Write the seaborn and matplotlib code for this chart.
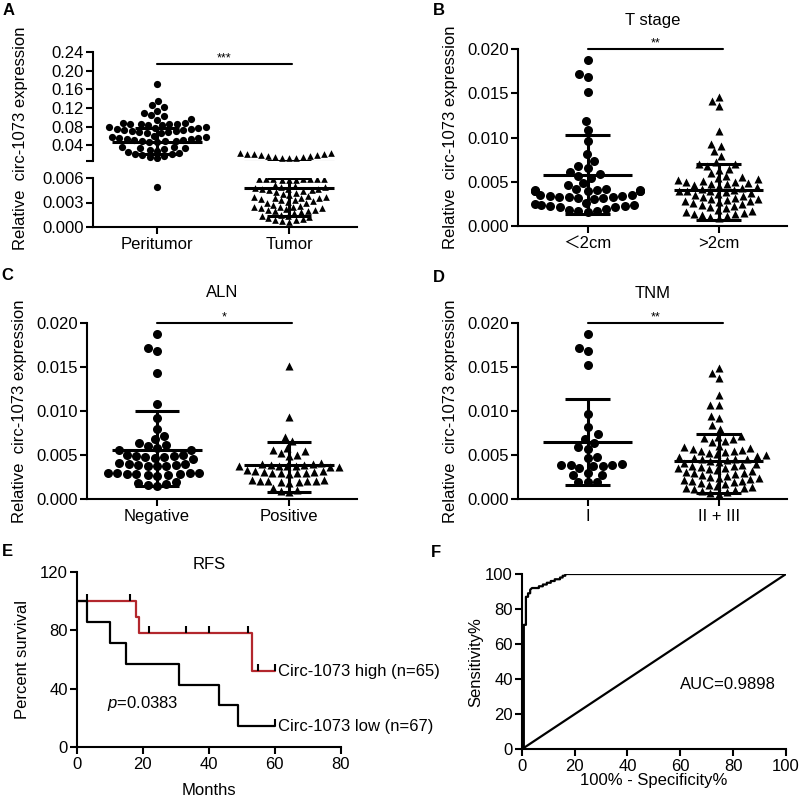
"""circ-1073 figure: expression scatter panels (A-D), RFS curve (E) and ROC curve (F)."""

import matplotlib

matplotlib.use("Agg")
import matplotlib.pyplot as plt
import numpy as np
import pandas as pd
import seaborn as sns

# ---------------- data ----------------
# A: peritumor vs tumor (broken y axis at 0.006)
a_cats = ["Peritumor", "Tumor"]
a_peri = [0.172, 0.135, 0.126, 0.122, 0.114, 0.108, 0.104, 0.103, 0.096, 0.095,
          0.083, 0.084, 0.085, 0.085, 0.086, 0.086, 0.087, 0.088,
          0.066, 0.067, 0.068, 0.069, 0.070, 0.071, 0.072, 0.073, 0.074, 0.075, 0.076, 0.077, 0.078, 0.079,
          0.046, 0.047, 0.048, 0.049, 0.050, 0.051, 0.052, 0.053, 0.054, 0.055, 0.056, 0.057, 0.058, 0.060,
          0.012, 0.014, 0.016, 0.018, 0.020, 0.022, 0.024, 0.026, 0.028, 0.030, 0.032, 0.033, 0.034, 0.035, 0.036,
          0.0049]
a_tumor = [0.0115, 0.012, 0.013, 0.014, 0.015, 0.016, 0.017, 0.018, 0.019, 0.020, 0.021, 0.022, 0.023, 0.024,
           0.0057, 0.0058, 0.0058, 0.0059, 0.0059, 0.0059, 0.0059, 0.0059, 0.0059, 0.0059,
           0.0041, 0.0042, 0.0043, 0.0044, 0.0045, 0.0045, 0.0046, 0.0047, 0.0047, 0.0048, 0.0049, 0.0049, 0.0050, 0.0051,
           0.0029, 0.0030, 0.0031, 0.0032, 0.0033, 0.0033, 0.0034, 0.0035, 0.0035, 0.0036, 0.0037, 0.0037, 0.0038, 0.0039,
           0.0017, 0.0018, 0.0019, 0.0020, 0.0021, 0.0021, 0.0022, 0.0023, 0.0023, 0.0024, 0.0025, 0.0025, 0.0026, 0.0027,
           0.0006, 0.0007, 0.0008, 0.0009, 0.0010, 0.0011, 0.0012, 0.0013, 0.0014, 0.0015]
a_mean = [0.047, 0.0048]
a_low = [0.022, 0.0013]
a_high = [0.076, 0.00595]
a_break = 0.006

# B: T stage
b_cats = ["＜2cm", ">2cm"]
b_small = [0.01875, 0.01718, 0.01687, 0.01514, 0.01186, 0.01085, 0.00964, 0.00810, 0.00734, 0.00678,
           0.00655, 0.00614, 0.00584, 0.00565, 0.00546, 0.00482, 0.00463,
           0.0039, 0.0039, 0.0040, 0.0040, 0.0040, 0.0041, 0.0041, 0.0041, 0.0042, 0.0042,
           0.0031, 0.0032, 0.0032, 0.0033, 0.0033, 0.0033, 0.0034, 0.0034, 0.0035, 0.0035,
           0.0021, 0.0022, 0.0023, 0.0023, 0.0024, 0.0024, 0.0025, 0.0026,
           0.0016, 0.0017, 0.0017, 0.0018, 0.0019]
b_large = [0.01461, 0.01416, 0.01360, 0.01073, 0.00930, 0.00904, 0.00847, 0.00794, 0.00720, 0.00704,
           0.00704, 0.00678, 0.00644, 0.00633, 0.00595,
           0.0046, 0.0047, 0.0048, 0.0049, 0.0050, 0.0050, 0.0051, 0.0052, 0.0053, 0.0054, 0.0055, 0.0056,
           0.0035, 0.0036, 0.0037, 0.0038, 0.0039, 0.0039, 0.0040, 0.0041, 0.0042, 0.0043, 0.0044, 0.0045,
           0.0024, 0.0025, 0.0026, 0.0027, 0.0028, 0.0028, 0.0029, 0.0030, 0.0031, 0.0032, 0.0033, 0.0034,
           0.0009, 0.0010, 0.0011, 0.0012, 0.0013, 0.0014, 0.0015, 0.0016, 0.0017, 0.0018, 0.0020, 0.0021, 0.0023]
b_mean = [0.00576, 0.0041]
b_low = [0.00136, 0.0007]
b_high = [0.01028, 0.0070]

# C: ALN
c_cats = ["Negative", "Positive"]
c_neg = [0.01878, 0.01716, 0.01677, 0.01430, 0.01078, 0.00920, 0.00800, 0.00720, 0.00680, 0.00640,
         0.00610, 0.00600, 0.00580, 0.00560, 0.00560,
         0.0046, 0.0047, 0.0048, 0.0048, 0.0049, 0.0049, 0.0050, 0.0050,
         0.0037, 0.0038, 0.0038, 0.0039, 0.0039, 0.0040, 0.0040, 0.0041,
         0.0026, 0.0027, 0.0027, 0.0028, 0.0028, 0.0028, 0.0029, 0.0029, 0.0030, 0.0030,
         0.0015, 0.0016, 0.0017, 0.0018, 0.0019]
c_pos = [0.01508, 0.00928, 0.00705, 0.00655, 0.00580, 0.00560, 0.00540, 0.00520, 0.00500, 0.00490,
         0.0036, 0.0036, 0.0037, 0.0037, 0.0038, 0.0038, 0.0039, 0.0039, 0.0040, 0.0040, 0.0041,
         0.0028, 0.0029, 0.0029, 0.0030, 0.0030, 0.0031, 0.0031, 0.0032, 0.0032, 0.0033,
         0.0018, 0.0019, 0.0019, 0.0020, 0.0020, 0.0021, 0.0021, 0.0022, 0.0022,
         0.0008, 0.0009, 0.0010, 0.0012]
c_mean = [0.0056, 0.00382]
c_low = [0.00143, 0.0008]
c_high = [0.00995, 0.00648]

# D: TNM
d_cats = ["I", "II + III"]
d_early = [0.01878, 0.01716, 0.01678, 0.01520, 0.00966, 0.00815, 0.00736, 0.00680, 0.00640, 0.00586,
           0.00567, 0.00482, 0.00464, 0.0038, 0.0038, 0.0039, 0.0039, 0.0039, 0.0040,
           0.0035, 0.0030, 0.00275, 0.00275, 0.0019, 0.0019, 0.0019]
d_late = [0.01484, 0.01427, 0.01370, 0.01180, 0.01066, 0.01066, 0.00940, 0.00920, 0.00840, 0.00800,
          0.00720, 0.00710, 0.00690, 0.00680, 0.00660, 0.00650,
          0.0049, 0.0050, 0.0051, 0.0052, 0.0053, 0.0054, 0.0055, 0.0056, 0.0057, 0.0058, 0.0059, 0.0060,
          0.0038, 0.0039, 0.0040, 0.0041, 0.0042, 0.0043, 0.0044, 0.0045, 0.0046, 0.0046, 0.0047, 0.0048,
          0.0027, 0.0028, 0.0029, 0.0030, 0.0031, 0.0032, 0.0033, 0.0034, 0.0035, 0.0035, 0.0036, 0.0037,
          0.0016, 0.0017, 0.0018, 0.0019, 0.0020, 0.0021, 0.0022, 0.0023, 0.0024, 0.0024, 0.0025, 0.0026,
          0.0006, 0.0007, 0.0008, 0.0009, 0.0010, 0.0011, 0.0012, 0.0013, 0.0014, 0.0015]
d_mean = [0.00645, 0.00437]
d_low = [0.00154, 0.0007]
d_high = [0.0114, 0.00736]

# E: RFS (Kaplan-Meier steps)
high_t = [0, 18, 19, 53, 60]
high_s = [100, 88.9, 77.8, 51.9, 51.9]
high_cens_t = [16, 22, 33, 40, 52, 55, 60]
high_cens_s = [100, 77.8, 77.8, 77.8, 77.8, 51.9, 51.9]
low_t = [0, 3, 10, 15, 31, 43, 49, 60]
low_s = [100, 85.7, 71.4, 57.1, 42.9, 28.6, 14.3, 14.3]
low_cens_t = [3, 60]
low_cens_s = [100, 14.3]

# F: ROC
roc_fpr = [0, 0.8, 0.8, 1.6, 1.6, 2.4, 2.4, 3.2, 3.2, 3.9, 6.5, 6.5, 8.0, 8.0, 9.5, 9.5,
           11.0, 11.0, 12.5, 12.5, 14.5, 14.5, 15.5, 15.5, 16.5, 16.5, 100]
roc_tpr = [0, 0, 71, 71, 87, 87, 89, 89, 91, 92, 92, 93, 93, 94, 94, 95,
           95, 96, 96, 97, 97, 98, 98, 99, 99, 100, 100]
chance = [0, 100]

RED = "#b3272d"
YLABEL = "Relative  circ-1073 expression"

# ---------------- style ----------------
sns.set_theme(style="ticks")
plt.rcParams["font.family"] = ["Liberation Sans", "Noto Sans CJK SC", "DejaVu Sans"]
plt.rcParams.update({
    "axes.linewidth": 1.5, "axes.edgecolor": "black", "axes.labelcolor": "black",
    "text.color": "black", "xtick.color": "black", "ytick.color": "black",
    "xtick.major.width": 1.5, "ytick.major.width": 1.5,
    "xtick.major.size": 5, "ytick.major.size": 5,
    "xtick.major.pad": 2, "ytick.major.pad": 1.5,
    "font.size": 12, "xtick.labelsize": 12, "ytick.labelsize": 12, "axes.labelsize": 12,
    "mathtext.fontset": "custom", "mathtext.it": "Liberation Sans:italic",
    "mathtext.rm": "Liberation Sans",
})

W, H = 800, 798
fig = plt.figure(figsize=(W / 100, H / 100), dpi=100)


def add_axes(left, top, right, bottom):
    ax = fig.add_axes([left / W, 1 - bottom / H, (right - left) / W, (bottom - top) / H])
    sns.despine(ax=ax)
    return ax


def swarm(ax, cats, groups, markers, sizes):
    for cat, vals, marker, size in zip(cats, groups, markers, sizes):
        df = pd.DataFrame({"group": [cat] * len(vals), "value": vals})
        sns.swarmplot(data=df, x="group", y="value", order=cats, marker=marker, size=size,
                      color="black", linewidth=0, warn_thresh=1, ax=ax)
    ax.set_xlabel("")
    ax.set_ylabel("")


def mean_sd(ax, means, lows, highs):
    xs = np.arange(len(means))
    kw = dict(color="black", lw=2.2, zorder=5)
    ax.hlines(means, xs - 0.34, xs + 0.34, **kw)
    ax.hlines(highs, xs - 0.17, xs + 0.17, **kw)
    ax.hlines(lows, xs - 0.17, xs + 0.17, **kw)
    ax.vlines(xs, lows, highs, **kw)


def sig_bar(ax, y, stars, x1=1.03):
    ax.plot([0, x1], [y, y], color="black", lw=1.5, clip_on=False)
    ax.text(x1 / 2, y, stars, ha="center", va="bottom", fontsize=9, clip_on=False)


def conc_axis(ax, xlim, title=None, pad=17, label_x=-0.223):
    ax.set_xlim(*xlim)
    ax.set_ylim(0, 0.020)
    ticks = [0, 0.005, 0.010, 0.015, 0.020]
    ax.set_yticks(ticks)
    ax.set_yticklabels([f"{t:.3f}" for t in ticks])
    ax.set_ylabel(YLABEL)
    ax.yaxis.set_label_coords(label_x, 0.5)
    if title:
        ax.set_title(title, fontsize=12, pad=pad)


# ---------------- A (broken axis) ----------------
ax_a1 = add_axes(93, 52, 357, 161)
ax_a2 = add_axes(93, 178, 357, 227)
peri = np.array(a_peri)
tum = np.array(a_tumor)
swarm(ax_a1, a_cats, [peri[peri >= a_break], tum[tum >= a_break]], ["o", "^"], [5.2, 4.8])
swarm(ax_a2, a_cats, [peri[peri < a_break], tum[tum < a_break]], ["o", "^"], [5.2, 4.8])
for ax in (ax_a1, ax_a2):
    mean_sd(ax, a_mean, a_low, a_high)
    ax.set_xlim(-0.485, 1.515)
ax_a1.set_ylim(a_break, 0.24)
up_ticks = [a_break, 0.04, 0.08, 0.12, 0.16, 0.20, 0.24]
ax_a1.set_yticks(up_ticks)
ax_a1.set_yticklabels([""] + [f"{t:.2f}" for t in up_ticks[1:]])
ax_a1.spines["bottom"].set_visible(False)
ax_a1.tick_params(axis="x", bottom=False, labelbottom=False)
ax_a2.set_ylim(0, a_break)
ax_a2.set_yticks([0, 0.003, 0.006])
ax_a2.set_yticklabels(["0.000", "0.003", "0.006"])
sig_bar(ax_a1, 0.214, "***", x1=1.02)
fig.text(21 / W, 1 - 138 / H, YLABEL, rotation=90, ha="center", va="center", fontsize=12)

# ---------------- B ----------------
ax_b = add_axes(518, 49, 787, 226)
swarm(ax_b, b_cats, [b_small, b_large], ["o", "^"], [6.5, 5.8])
mean_sd(ax_b, b_mean, b_low, b_high)
conc_axis(ax_b, (-0.53, 1.52), "T stage", pad=17)
sig_bar(ax_b, 0.020, "**")

# ---------------- C ----------------
ax_c = add_axes(87, 323, 357, 499)
swarm(ax_c, c_cats, [c_neg, c_pos], ["o", "^"], [6.5, 5.8])
mean_sd(ax_c, c_mean, c_low, c_high)
conc_axis(ax_c, (-0.53, 1.515), "ALN", pad=19, label_x=-0.222)
sig_bar(ax_c, 0.020, "*", x1=1.02)

# ---------------- D ----------------
ax_d = add_axes(518, 323, 787, 499)
swarm(ax_d, d_cats, [d_early, d_late], ["o", "^"], [6.5, 5.8])
mean_sd(ax_d, d_mean, d_low, d_high)
conc_axis(ax_d, (-0.53, 1.52), "TNM", pad=18)
sig_bar(ax_d, 0.020, "**")

# ---------------- E ----------------
ax_e = add_axes(76.7, 571.7, 340.7, 747.3)
sns.lineplot(x=high_t, y=high_s, drawstyle="steps-post", color=RED, lw=1.6, estimator=None, ax=ax_e)
ax_e.plot(high_cens_t, high_cens_s, ls="none", marker=2, ms=5, mew=1.5, color="black")
sns.lineplot(x=low_t, y=low_s, drawstyle="steps-post", color="black", lw=1.6, estimator=None, ax=ax_e)
ax_e.plot(low_cens_t, low_cens_s, ls="none", marker=2, ms=5, mew=1.5, color="black")
ax_e.set_xlim(0, 80)
ax_e.set_ylim(0, 120)
ax_e.set_xticks([0, 20, 40, 60, 80])
ax_e.set_yticks([0, 40, 80, 120])
ax_e.set_title("RFS", fontsize=12, pad=2)
ax_e.set_xlabel("Months")
ax_e.set_ylabel("Percent survival")
ax_e.yaxis.set_label_coords(-0.177, 0.5)
ax_e.xaxis.set_label_coords(0.5, -0.203)
ax_e.text(61, high_s[-1], "Circ-1073 high (n=65)", va="center", ha="left", fontsize=12, clip_on=False)
ax_e.text(61, low_s[-1], "Circ-1073 low (n=67)", va="center", ha="left", fontsize=12, clip_on=False)
ax_e.text(9.2, 30, r"$\it{p}$=0.0383", va="center", ha="left", fontsize=12)

# ---------------- F ----------------
ax_f = add_axes(521.7, 574, 786, 749.3)
sns.lineplot(x=chance, y=chance, color="black", lw=1.6, estimator=None, ax=ax_f)
sns.lineplot(x=roc_fpr, y=roc_tpr, sort=False, color="black", lw=1.6, estimator=None, ax=ax_f)
ax_f.set_xlim(0, 100)
ax_f.set_ylim(0, 100)
ax_f.set_xticks(range(0, 101, 20))
ax_f.set_yticks(range(0, 101, 20))
ax_f.set_xlabel("100% - Specificity%")
ax_f.set_ylabel("Sensitivity%")
ax_f.yaxis.set_label_coords(-0.146, 0.5)
ax_f.xaxis.set_label_coords(0.5, -0.135)
ax_f.text(60, 37, "AUC=0.9898", ha="left", va="center", fontsize=12)

# ---------------- panel letters ----------------
for letter, x, y in [("A", 9, 10.5), ("B", 439, 10.5), ("C", 7.5, 276),
                     ("D", 439, 277), ("E", 7.5, 551), ("F", 436, 552.5)]:
    fig.text(x / W, 1 - y / H, letter, fontsize=12, fontweight="bold", ha="center", va="center")

fig.savefig("out.png", dpi=100)
